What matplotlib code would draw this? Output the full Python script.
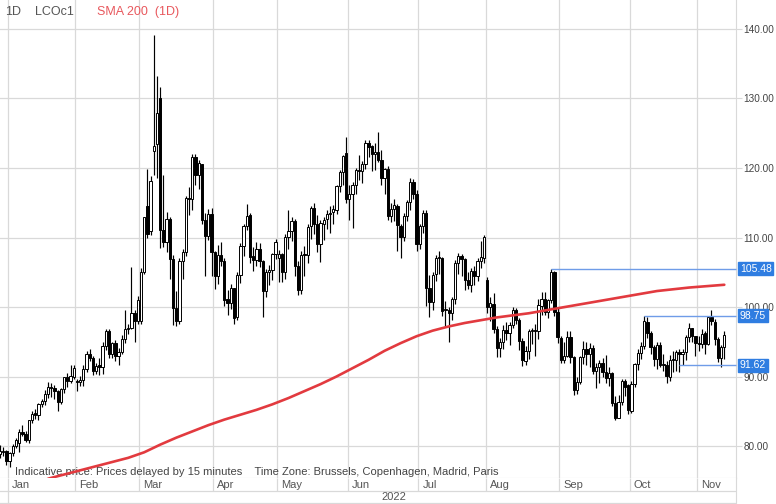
import numpy as np
import pandas as pd
import matplotlib
matplotlib.use("Agg")
import matplotlib.pyplot as plt
import matplotlib.transforms as mtransforms

plt.rcParams["font.family"] = ["Liberation Sans", "DejaVu Sans"]

# trading days shown on the chart (ICE closed on Good Friday)
dates = pd.bdate_range("2021-12-29", "2022-11-11").drop(pd.Timestamp("2022-04-15"))

# daily OHLC, LCOc1 (one line per month)
opens = [
    78.9, 79.2, 79.3,
    77.9, 79.0, 80.0, 80.5, 82.0, 81.7, 80.9, 83.7, 84.7, 84.5, 86.1, 86.5, 87.5, 88.4, 88.4, 87.9, 86.3, 88.2, 90.0, 89.3, 90.0,
    89.3, 89.2, 89.5, 91.1, 93.3, 92.7, 90.8, 91.6, 91.4, 94.4, 96.5, 93.3, 94.8, 93.0, 93.5, 95.4, 96.8, 97.0, 99.1, 98.0,
    98.0, 105.0, 114.5, 111.0, 122.5, 123.5, 130.0, 111.1, 109.3, 112.7, 106.9, 99.9, 98.0, 106.6, 107.9, 115.6, 115.5, 121.6, 119.0, 120.6, 112.5, 110.2, 113.4,
    107.9, 104.4, 107.5, 106.6, 101.1, 100.6, 102.8, 98.5, 104.6, 108.8, 111.7, 113.2, 107.3, 106.8, 108.3, 106.6, 102.3, 105.0, 105.3, 107.6,
    107.0, 107.6, 105.0, 110.1, 111.0, 112.4, 105.9, 102.5, 107.5, 107.5, 111.6, 114.2, 111.9, 109.1, 112.0, 112.6, 113.4, 113.6, 114.0, 117.4, 119.4, 122.1,
    115.6, 116.3, 117.6, 119.7, 119.5, 120.6, 123.6, 123.1, 122.0, 122.3, 121.2, 118.5, 119.8, 113.1, 114.1, 114.6, 111.7, 110.1, 113.1, 115.1, 118.0, 116.3,
    109.0, 111.6, 113.5, 102.8, 100.7, 104.7, 107.0, 107.1, 99.5, 99.6, 99.1, 101.2, 106.3, 107.4, 106.9, 103.9, 103.2, 105.2, 104.4, 106.6, 107.1,
    103.9, 100.0, 100.5, 96.8, 94.1, 94.9, 96.7, 96.3, 97.4, 99.6, 98.2, 95.1, 92.3, 93.7, 96.6, 96.7, 96.5, 100.2, 101.2, 99.3, 101.0, 105.1, 99.3,
    95.6, 92.4, 93.0, 95.7, 92.8, 88.0, 89.2, 92.8, 94.0, 93.2, 94.1, 90.8, 91.4, 92.0, 90.6, 89.8, 90.5, 86.2, 84.1, 86.3, 89.3, 88.8,
    85.1, 88.9, 91.8, 93.4, 94.4, 97.9, 96.2, 94.3, 92.5, 94.6, 91.6, 91.6, 90.0, 92.4, 92.4, 93.5, 93.3, 93.5, 95.7, 97.0, 95.8,
    94.8, 94.7, 96.2, 94.7, 98.6, 97.9, 95.4, 92.7, 94.3,
]
highs = [
    80.1, 79.9, 79.4,
    79.2, 80.3, 81.2, 82.4, 83.0, 82.2, 83.8, 85.0, 85.3, 86.2, 86.7, 88.0, 89.2, 89.1, 88.8, 88.1, 88.4, 90.0, 90.5, 91.7, 91.7,
    89.7, 90.1, 91.7, 93.7, 94.0, 92.9, 92.0, 92.6, 95.0, 96.8, 96.8, 95.0, 95.2, 94.1, 96.0, 99.5, 97.5, 105.8, 99.5, 101.6,
    105.6, 113.0, 119.8, 118.8, 139.1, 133.2, 131.6, 119.0, 113.6, 113.0, 107.5, 102.3, 107.0, 108.3, 116.0, 117.3, 122.0, 122.0, 121.1, 120.6, 113.5, 114.1, 114.3,
    108.0, 108.9, 109.3, 107.0, 102.4, 103.3, 102.8, 105.0, 109.2, 112.0, 114.8, 113.5, 108.6, 109.4, 109.2, 106.8, 105.4, 106.0, 107.8, 109.8,
    108.2, 107.8, 110.5, 114.0, 113.0, 112.6, 106.6, 108.0, 108.8, 112.0, 114.5, 115.0, 113.2, 112.5, 113.0, 114.0, 114.5, 114.7, 117.5, 119.7, 121.9, 124.5,
    117.5, 118.0, 120.0, 121.9, 121.0, 124.0, 124.1, 123.3, 123.6, 125.2, 122.6, 120.0, 120.3, 115.0, 115.5, 114.8, 112.0, 113.5, 115.4, 118.6, 118.4, 116.8,
    112.0, 114.0, 113.9, 104.6, 105.0, 107.5, 108.0, 107.2, 100.8, 100.0, 101.5, 106.8, 107.8, 107.6, 107.0, 105.0, 105.6, 105.9, 107.0, 109.5, 110.3,
    104.3, 101.4, 102.0, 97.3, 95.6, 97.4, 97.8, 97.9, 100.0, 99.8, 98.4, 95.5, 94.4, 96.9, 97.0, 97.5, 101.2, 102.1, 102.2, 101.2, 105.48, 105.2, 99.8,
    95.8, 95.0, 96.5, 96.6, 93.0, 90.0, 93.0, 95.1, 95.0, 94.8, 94.5, 92.0, 92.4, 92.7, 93.1, 91.4, 90.6, 87.2, 87.3, 89.6, 89.6, 88.9,
    89.3, 92.0, 93.9, 94.9, 98.75, 98.5, 96.6, 94.5, 95.0, 95.0, 93.3, 92.2, 93.1, 93.6, 93.8, 94.0, 93.9, 96.0, 97.7, 97.0, 95.8,
    95.9, 96.8, 96.6, 98.7, 99.6, 98.3, 95.7, 94.6, 96.5,
]
lows = [
    78.3, 78.6, 77.2,
    77.0, 78.5, 79.7, 79.2, 81.5, 80.6, 80.4, 83.3, 83.9, 83.8, 85.6, 85.9, 86.9, 87.0, 86.7, 85.0, 86.1, 87.7, 88.5, 89.0, 89.6,
    87.9, 88.6, 88.7, 90.6, 92.2, 90.2, 90.3, 90.2, 90.3, 93.8, 92.6, 92.7, 92.2, 91.7, 93.3, 94.8, 96.1, 96.8, 94.9, 97.5,
    97.6, 104.8, 110.0, 110.3, 119.0, 118.6, 108.5, 108.7, 107.9, 104.0, 97.4, 97.3, 97.5, 104.1, 107.3, 113.2, 113.9, 117.6, 117.0, 111.9, 104.5, 109.6, 104.4,
    102.6, 103.3, 105.9, 100.2, 98.8, 99.7, 97.6, 98.1, 103.4, 107.4, 111.1, 106.4, 105.2, 105.9, 105.8, 98.5, 101.5, 103.1, 103.9, 106.9,
    103.6, 103.6, 104.0, 108.4, 109.5, 104.5, 101.7, 101.9, 104.4, 106.3, 109.8, 110.5, 107.9, 106.5, 109.6, 111.2, 110.6, 111.9, 113.4, 116.6, 117.5, 115.0,
    112.5, 111.4, 116.3, 118.3, 117.8, 119.9, 121.6, 119.6, 119.7, 120.8, 117.6, 116.3, 112.5, 112.3, 112.4, 108.0, 107.0, 109.5, 112.4, 114.0, 115.6, 108.0,
    108.3, 110.6, 100.2, 98.5, 99.5, 103.8, 104.7, 98.7, 97.1, 95.0, 98.2, 100.4, 104.8, 104.5, 102.5, 102.6, 102.2, 103.1, 103.8, 105.6, 106.3,
    99.1, 98.0, 96.2, 92.8, 92.8, 94.0, 95.3, 94.6, 97.0, 97.5, 93.8, 91.5, 91.6, 92.5, 94.7, 93.0, 95.4, 98.9, 98.8, 98.4, 100.6, 98.7, 94.8,
    92.0, 92.0, 92.8, 91.9, 87.3, 87.5, 88.9, 91.8, 91.6, 91.3, 90.4, 88.4, 89.0, 90.0, 89.0, 88.6, 85.7, 83.8, 84.0, 85.9, 87.2, 84.6,
    84.8, 88.5, 91.0, 92.5, 94.0, 95.6, 93.2, 91.5, 91.1, 91.4, 90.8, 89.0, 89.4, 90.6, 90.8, 90.6, 91.6, 92.4, 95.0, 94.9, 92.9,
    93.6, 94.1, 93.3, 94.6, 97.4, 94.6, 92.1, 91.3, 92.5,
]
closes = [
    79.23, 79.32, 77.78,
    78.98, 80.00, 80.80, 81.99, 81.75, 80.87, 83.72, 84.67, 84.47, 86.06, 86.48, 87.51, 88.44, 88.38, 87.89, 86.27, 88.20, 89.96, 89.34, 90.03, 91.21,
    89.16, 89.47, 91.11, 93.27, 92.69, 90.78, 91.55, 91.41, 94.44, 96.48, 93.28, 94.81, 92.97, 93.54, 95.39, 96.84, 96.84, 99.08, 97.93, 100.99,
    104.97, 112.93, 110.46, 118.11, 123.21, 127.98, 111.14, 109.33, 112.67, 106.90, 99.91, 98.02, 106.64, 107.93, 115.62, 115.48, 121.60, 119.03, 120.65, 112.48, 110.23, 113.45, 107.91,
    104.39, 107.53, 106.64, 101.07, 100.58, 102.78, 98.48, 104.64, 108.78, 111.70, 113.16, 107.25, 106.80, 108.33, 106.65, 102.32, 104.99, 105.32, 107.59, 109.34,
    107.58, 104.97, 110.14, 111.00, 112.39, 105.94, 102.46, 107.51, 107.45, 111.55, 114.24, 111.93, 109.11, 112.04, 112.55, 113.42, 113.56, 114.03, 117.40, 119.43, 121.67, 115.60,
    116.29, 117.61, 119.72, 119.51, 120.57, 123.58, 123.07, 122.01, 122.27, 121.17, 118.51, 119.81, 113.12, 114.13, 114.65, 111.74, 110.05, 113.12, 115.09, 117.98, 116.26, 109.03,
    111.63, 113.50, 102.77, 100.69, 104.65, 107.02, 107.10, 99.49, 99.57, 99.10, 101.16, 106.27, 107.35, 106.92, 103.86, 103.20, 105.15, 104.40, 106.62, 107.14, 110.01,
    100.03, 100.54, 96.78, 94.12, 94.92, 96.65, 96.31, 97.40, 99.60, 98.15, 95.10, 92.34, 93.65, 96.59, 96.72, 96.48, 100.22, 101.22, 99.34, 100.99, 105.09, 99.31, 95.64,
    92.36, 93.02, 95.74, 92.83, 88.00, 89.15, 92.84, 94.00, 93.17, 94.10, 90.84, 91.35, 92.00, 90.62, 89.83, 90.46, 86.15, 84.06, 86.27, 89.32, 88.49, 85.14,
    88.86, 91.80, 93.37, 94.42, 97.92, 96.19, 94.29, 92.45, 94.57, 91.63, 91.62, 90.03, 92.41, 92.38, 93.50, 93.26, 93.52, 95.69, 96.96, 95.77, 94.83,
    94.65, 96.16, 94.67, 98.57, 97.92, 95.36, 92.65, 94.25, 95.99,
]

# SMA 200 (trading-day index, value)
sma_idx = [15, 20, 25, 30, 35, 40, 45, 50, 55, 60, 65, 70, 75, 80, 85, 90, 95, 100, 105, 110, 115, 120, 125,
           130, 135, 140, 145, 150, 155, 165, 175, 185, 195, 205, 215, 226]
sma_vals = [75.3, 75.9, 76.5, 77.1, 77.7, 78.3, 79.1, 80.2, 81.2, 82.1, 83.0, 83.8, 84.5, 85.2, 86.0, 86.9, 87.9, 88.9,
            90.0, 91.2, 92.4, 93.7, 94.8, 95.8, 96.6, 97.2, 97.7, 98.1, 98.5, 99.1, 99.9, 100.7, 101.5, 102.3, 102.8, 103.2]

# horizontal levels drawn by hand on the chart
level_vals = [105.48, 98.75, 91.62]
level_from = ["2022-08-29", "2022-10-07", "2022-10-24"]

month_names = ["Jan", "Feb", "Mar", "Apr", "May", "Jun", "Jul", "Aug", "Sep", "Oct", "Nov"]

W, H = 776, 504
fig = plt.figure(figsize=(W / 100, H / 100), dpi=100)
ax = fig.add_axes([0, 26 / H, 736 / W, 478 / H])
XMIN, XMAX = 0.0, 229.65
ax.set_xlim(XMIN, XMAX)
ax.set_ylim(75.4, 144.17)

grid_c = "#d9d9d9"
for v in range(80, 141, 10):
    ax.axhline(v, color=grid_c, lw=0.9, zorder=0)

# month boundaries
mstart = [i for i in range(1, len(dates)) if dates[i].month != dates[i - 1].month]
bounds = [i - 0.5 for i in mstart]
for b in bounds:
    ax.axvline(b, color=grid_c, lw=0.9, zorder=0)

# candles
x = np.arange(len(dates))
o = np.array(opens); c = np.array(closes)
up = c >= o
ax.vlines(x, lows, highs, color="black", lw=0.85, zorder=2)
bottoms = np.minimum(o, c)
heights = np.maximum(np.abs(c - o), 0.15)
ax.bar(x[up], heights[up], bottom=bottoms[up], width=0.72, color="white", edgecolor="black", lw=0.7, zorder=3)
ax.bar(x[~up], heights[~up], bottom=bottoms[~up], width=0.72, color="black", edgecolor="black", lw=0.7, zorder=3)

# SMA line
ax.plot(sma_idx, sma_vals, color="#e23a3f", lw=1.9, solid_capstyle="round", zorder=4)

# level lines and tags
blue = "#2f7de1"
trans = mtransforms.blended_transform_factory(ax.transAxes, ax.transData)
for v, d in zip(level_vals, level_from):
    i0 = dates.get_loc(pd.Timestamp(d))
    ax.hlines(v, i0, XMAX, color="#6f9ce8", lw=1.0, zorder=4, clip_on=False)
    ax.text(1.0 + 4 / 736, v, f"{v:.2f}", transform=trans, ha="left", va="center", color="white",
            fontsize=7.5, zorder=6, clip_on=False,
            bbox=dict(boxstyle="square,pad=0.15", fc=blue, ec=blue))

# axes styling
for s in ["top", "left"]:
    ax.spines[s].set_visible(False)
for s in ["right", "bottom"]:
    ax.spines[s].set_color(grid_c)
ax.set_xticks([])
ax.yaxis.tick_right()
ax.set_yticks(range(80, 141, 10))
ax.set_yticklabels([f"{v:.2f}" for v in range(80, 141, 10)])
ax.tick_params(axis="y", length=4, color=grid_c, labelsize=7.2, labelcolor="#444444", pad=1.5)

# header texts
ax.text(5 / 736, 1 - 12 / 478, "1D", transform=ax.transAxes, fontsize=9, color="#555555", va="center")
ax.text(35 / 736, 1 - 12 / 478, "LCOc1", transform=ax.transAxes, fontsize=9, color="#555555", va="center")
ax.text(97 / 736, 1 - 12 / 478, "SMA 200  (1D)", transform=ax.transAxes, fontsize=9, color="#e8585d", va="center")
ax.text(15 / 736, 6 / 478, "Indicative price: Prices delayed by 15 minutes    Time Zone: Brussels, Copenhagen, Madrid, Paris",
        transform=ax.transAxes, fontsize=8, color="#444444", va="center", zorder=1)

# date band below the chart
ax2 = fig.add_axes([0, 0, 736 / W, 26 / H])
ax2.set_xlim(XMIN, XMAX)
ax2.set_ylim(0, 26)
ax2.set_xticks([]); ax2.set_yticks([])
for s in ["top", "left", "bottom"]:
    ax2.spines[s].set_visible(False)
ax2.spines["right"].set_color(grid_c)
ax2.axhline(13, color=grid_c, lw=0.9)
ax2.axhline(1, color=grid_c, lw=0.9)
jan_b = bounds[0]
ax2.vlines(jan_b, 0, 26, color=grid_c, lw=0.9)
ax2.vlines(bounds[1:], 13, 26, color=grid_c, lw=0.9)
for b, name in zip(bounds, month_names):
    ax2.annotate(name, (b, 19.5), xytext=(3, 0), textcoords="offset points", fontsize=8,
                 color="#555555", va="center", ha="left")
ax2.text(jan_b + (394 - 8) / 3.205, 7, "2022", fontsize=8, color="#555555", va="center", ha="center")

fig.savefig("out.png", dpi=100)
